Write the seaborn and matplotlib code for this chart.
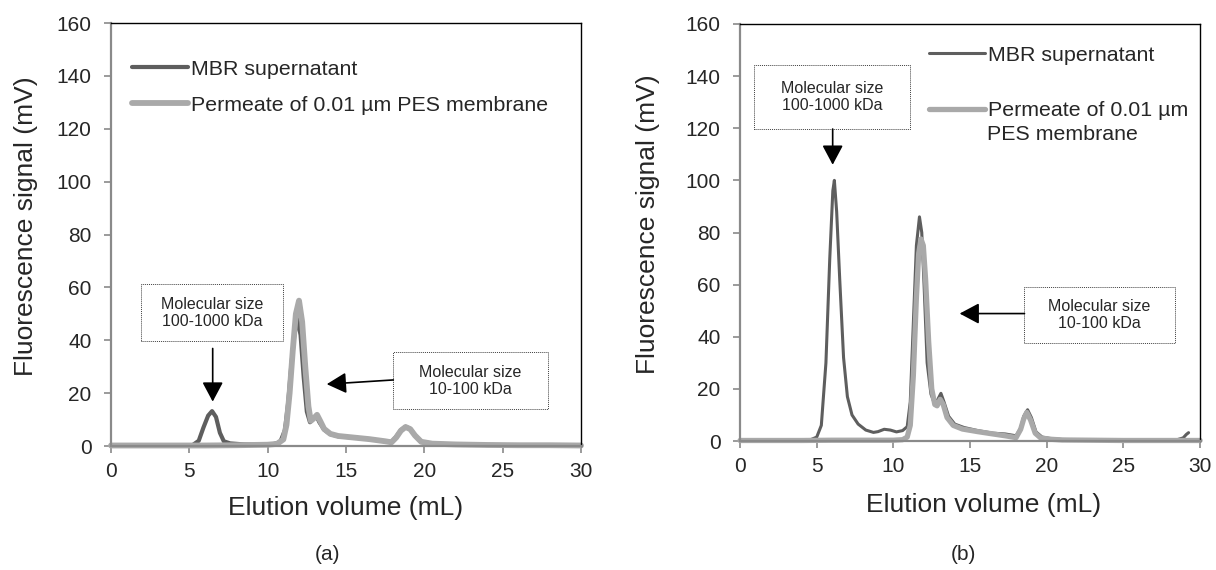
import numpy as np
import pandas as pd
import seaborn as sns
import matplotlib.pyplot as plt
from matplotlib.patches import Rectangle

# ---- panel (a) ----
a_mbr_x = [0, 2, 4, 5.2, 5.6, 5.9, 6.2, 6.45, 6.7, 6.95, 7.2, 7.6, 8.5, 9.5, 10.3, 10.8, 11.1, 11.3,
           11.5, 11.7, 11.9, 12.1, 12.3, 12.5, 12.7, 12.9, 13.1, 13.3, 13.6, 14.0, 14.5, 15.5, 16.5,
           17.5, 17.9, 18.2, 18.5, 18.8, 19.1, 19.4, 19.8, 20.5, 22, 24, 26, 28, 30]
a_mbr_y = [0.2, 0.2, 0.2, 0.3, 2, 7, 11.5, 13.2, 11, 5, 1.8, 1.0, 0.6, 0.5, 0.6, 1.5, 6, 16,
           30, 42, 48, 42, 26, 13, 9, 10.5, 11.5, 9, 6.2, 4.5, 3.7, 3.2, 2.6,
           1.8, 1.5, 3.5, 6, 7.3, 6.5, 4, 1.6, 0.9, 0.6, 0.4, 0.3, 0.3, 0.2]
a_per_x = [0, 2, 4, 6, 8, 10, 10.6, 11.0, 11.2, 11.4, 11.6, 11.8, 12.0, 12.2, 12.4, 12.6, 12.75,
           12.95, 13.15, 13.35, 13.6, 14.0, 14.5, 15.5, 16.5, 17.5, 17.9, 18.2, 18.5, 18.8, 19.1,
           19.4, 19.8, 20.5, 22, 24, 26, 28, 30]
a_per_y = [0.2, 0.2, 0.2, 0.2, 0.3, 0.5, 0.8, 2.5, 8, 20, 36, 50, 55, 47, 30, 15, 9.5,
           10.5, 11.8, 9.5, 6.5, 4.6, 3.8, 3.2, 2.6, 1.8, 1.4, 3.2, 5.8, 7.2, 6.4,
           4, 1.6, 0.9, 0.6, 0.4, 0.3, 0.3, 0.2]

# ---- panel (b) ----
b_mbr_x = [0, 2, 4, 4.6, 5.0, 5.3, 5.6, 5.85, 6.05, 6.15, 6.3, 6.5, 6.75, 7.0, 7.3, 7.7, 8.2, 8.7,
           9.0, 9.4, 9.8, 10.2, 10.6, 10.9, 11.1, 11.3, 11.5, 11.7, 11.85, 12.0, 12.2, 12.45, 12.7,
           12.9, 13.1, 13.3, 13.6, 14.0, 14.6, 15.5, 16.5, 17.3, 18.0, 18.3, 18.5, 18.75, 19.0,
           19.3, 19.7, 20.2, 21, 23, 25, 27, 28.5, 28.9, 29.1, 29.25]
b_mbr_y = [0.3, 0.3, 0.3, 0.5, 1.5, 6, 30, 70, 96, 100, 88, 62, 32, 17, 10, 6.5, 4.2, 3.3,
           3.6, 4.5, 4.2, 3.5, 4.0, 5.5, 15, 45, 75, 86, 80, 60, 30, 18, 14,
           16, 18.3, 15, 9.5, 6.5, 5.2, 4.0, 3.0, 2.7, 2.0, 5, 9.5, 12, 9,
           3.5, 1.5, 1.0, 0.6, 0.4, 0.3, 0.3, 0.5, 1.2, 2.5, 3.2]
b_per_x = [0, 2, 4, 6, 8, 10, 10.6, 10.9, 11.1, 11.3, 11.5, 11.65, 11.8, 11.95, 12.1, 12.3, 12.5,
           12.7, 12.85, 13.05, 13.25, 13.5, 13.9, 14.5, 15.5, 16.5, 17.3, 18.0, 18.3, 18.5, 18.7,
           18.95, 19.25, 19.6, 20.2, 21, 23, 25, 27, 30]
b_per_y = [0.2, 0.2, 0.2, 0.3, 0.3, 0.3, 0.5, 1.5, 6, 25, 55, 72, 77.5, 75, 62, 38, 20,
           14, 13.5, 16, 14, 9, 6, 4.6, 3.6, 2.7, 2.0, 1.3, 4.5, 8.5, 11,
           8, 3, 1.2, 0.7, 0.4, 0.3, 0.2, 0.2, 0.2]

x_ticks = [0, 5, 10, 15, 20, 25, 30]
y_ticks = [0, 20, 40, 60, 80, 100, 120, 140, 160]

mbr_label = 'MBR supernatant'
per_label = 'Permeate of 0.01 µm PES membrane'
box_hi = 'Molecular size\n100-1000 kDa'
box_lo = 'Molecular size\n10-100 kDa'

DARK = '#5e5e5e'
LIGHT = '#a9a9a9'
AXIS_GREY = '#8a8a8a'

sns.set_style('white')
plt.rcParams['font.family'] = ['Liberation Sans', 'DejaVu Sans']


def style_axes(ax):
    ax.set_xlim(0, 30)
    ax.set_ylim(0, 160)
    ax.set_xticks(x_ticks)
    ax.set_yticks(y_ticks)
    for side in ['left', 'bottom']:
        ax.spines[side].set_color(AXIS_GREY)
        ax.spines[side].set_linewidth(1.6)
    for side in ['top', 'right']:
        ax.spines[side].set_color('black')
        ax.spines[side].set_linewidth(1.0)
    ax.tick_params(axis='both', which='major', direction='out', length=5, width=1.2,
                   color=AXIS_GREY, labelsize=15, left=True, bottom=True)
    ax.tick_params(axis='y', pad=9)
    ax.tick_params(axis='x', pad=6.5)
    ax.set_xlabel('Elution volume (mL)', fontsize=19)
    ax.set_ylabel('Fluorescence signal (mV)', fontsize=19)


def draw_box(ax, x0, x1, y0, y1, text):
    ax.add_patch(Rectangle((x0, y0), x1 - x0, y1 - y0, fill=False, lw=0.7,
                           ls=(0, (1, 1)), edgecolor='#404040', zorder=5))
    ax.text((x0 + x1) / 2, (y0 + y1) / 2, text, ha='center', va='center',
            fontsize=11.5, linespacing=1.15, zorder=6)


def draw_arrow(ax, start, tip):
    ax.annotate('', xy=tip, xytext=start,
                arrowprops=dict(arrowstyle='-|>,head_length=0.6,head_width=0.32',
                                mutation_scale=20, color='black', lw=1.2,
                                shrinkA=0, shrinkB=0), zorder=6)


fig = plt.figure(figsize=(12.16, 5.70), dpi=100)
ax1 = fig.add_axes([0.0913, 0.2175, 0.3865, 0.742])
ax2 = fig.add_axes([0.6086, 0.2263, 0.3783, 0.7316])

# panel (a)
sns.lineplot(x=a_mbr_x, y=a_mbr_y, ax=ax1, color=DARK, lw=3.0, label=mbr_label,
             estimator=None, sort=False)
sns.lineplot(x=a_per_x, y=a_per_y, ax=ax1, color=LIGHT, lw=4.2, label=per_label,
             estimator=None, sort=False)
style_axes(ax1)
ax1.legend(loc='upper left', bbox_to_anchor=(0.045, 0.913), frameon=False, fontsize=15.4,
           handlelength=2.6, handletextpad=0.15, labelspacing=0.78, borderpad=0,
           borderaxespad=0)
draw_box(ax1, 1.91, 10.96, 39.6, 61.3, box_hi)
draw_arrow(ax1, (6.49, 36.9), (6.49, 16.8))
draw_box(ax1, 18.02, 27.87, 13.9, 35.4, box_lo)
draw_arrow(ax1, (18.02, 25.0), (13.77, 23.4))
ax1.yaxis.set_label_coords(-0.155, 0.52)
ax1.xaxis.set_label_coords(0.5, -0.119)

# panel (b)
sns.lineplot(x=b_mbr_x, y=b_mbr_y, ax=ax2, color=DARK, lw=2.2, label=mbr_label,
             estimator=None, sort=False)
sns.lineplot(x=b_per_x, y=b_per_y, ax=ax2, color=LIGHT, lw=3.8, label='Permeate of 0.01 µm',
             estimator=None, sort=False)
style_axes(ax2)
ax2.legend(loc='upper left', bbox_to_anchor=(0.4115, 0.948), frameon=False, fontsize=15.4,
           handlelength=2.6, handletextpad=0.15, labelspacing=1.72, borderpad=0,
           borderaxespad=0)
ax2.text(0.537, 0.735, 'PES membrane', transform=ax2.transAxes, fontsize=15.4,
         ha='left', va='center')
draw_box(ax2, 0.94, 11.11, 119.7, 144.4, box_hi)
draw_arrow(ax2, (6.04, 119.7), (6.04, 106.0))
draw_box(ax2, 18.55, 28.34, 37.6, 59.0, box_lo)
draw_arrow(ax2, (18.55, 48.9), (14.32, 48.9))
ax2.yaxis.set_label_coords(-0.175, 0.52)
ax2.xaxis.set_label_coords(0.53, -0.124)

for line in ax1.get_lines() + ax2.get_lines():
    line.set_clip_on(False)
    line.set_solid_capstyle('round')
    line.set_solid_joinstyle('round')

fig.text(327.6 / 1216, 1 - 555 / 570, '(a)', ha='center', va='center', fontsize=15)
fig.text(963.5 / 1216, 1 - 555 / 570, '(b)', ha='center', va='center', fontsize=15)

fig.savefig('out.png', dpi=100)
